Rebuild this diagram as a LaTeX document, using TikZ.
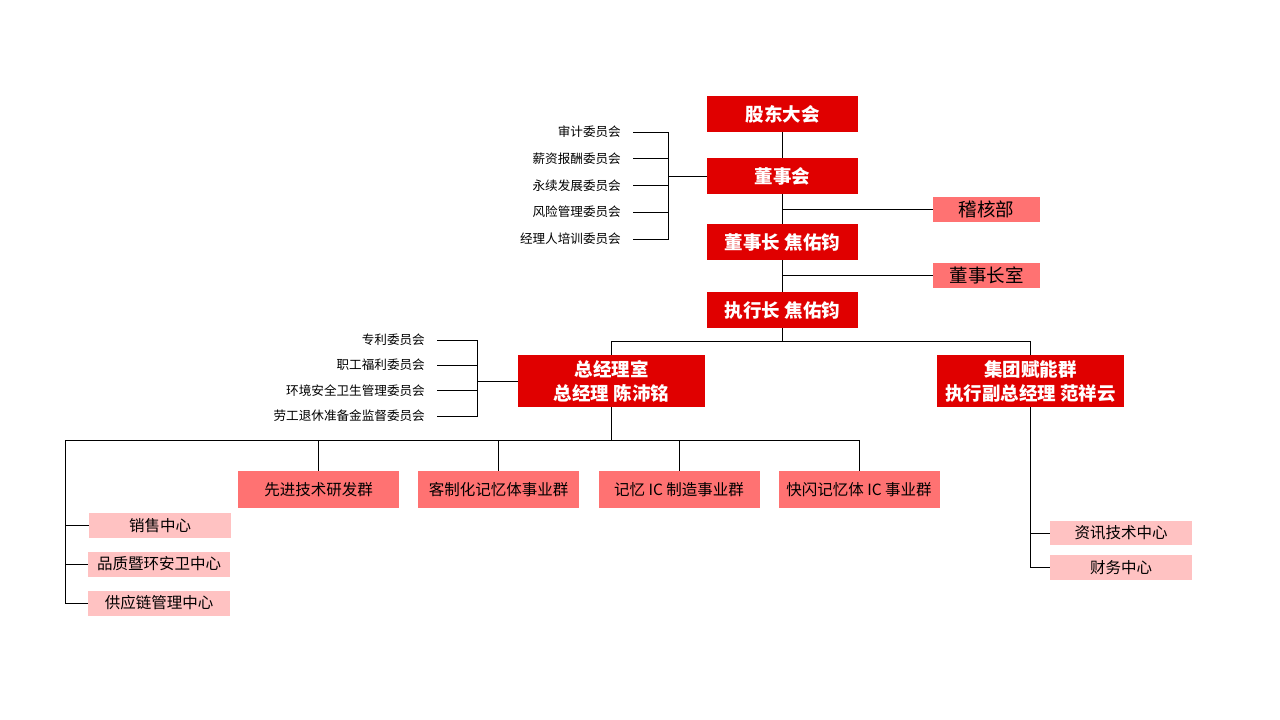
\documentclass[tikz,border=0pt]{standalone}
\usepackage{fontspec}
\setmainfont{Noto Sans CJK SC}
\definecolor{cdark}{RGB}{224,0,0}
\definecolor{csalmon}{RGB}{255,114,114}
\definecolor{cpink}{RGB}{255,194,194}
\begin{document}
\begin{tikzpicture}[x=1pt,y=-1pt,
  mainbox/.style={fill=cdark, text=white, font=\bfseries\fontsize{18.5}{24}\selectfont, minimum width=151pt, minimum height=36pt, inner sep=0pt, align=center},
  bigbox/.style={mainbox, minimum width=187pt, minimum height=52pt},
  sidebox/.style={fill=csalmon, text=black, font=\fontsize{18.5}{21}\selectfont, minimum width=107pt, minimum height=25pt, inner sep=0pt},
  grpbox/.style={fill=csalmon, text=black, font=\fontsize{15.5}{19}\selectfont, minimum width=161pt, minimum height=37pt, inner sep=0pt},
  ctrbox/.style={fill=cpink, text=black, font=\fontsize{15.5}{18}\selectfont, minimum width=142pt, minimum height=25pt, inner sep=0pt},
  cmt/.style={anchor=east, font=\fontsize{12.6}{14}\selectfont, inner xsep=12pt, inner ysep=0pt},
  conn/.style={draw=black, line width=0.9pt}
]
\useasboundingbox (0,0) rectangle (1280,720);
% main chain
\node[mainbox] (gd) at (782.5,114) {股东大会};
\node[mainbox] (dsh) at (782.5,176) {董事会};
\node[mainbox] (dsz) at (782.5,242) {董事长 焦佑钧};
\node[mainbox] (zxz) at (782.5,310) {执行长 焦佑钧};
\node[sidebox] (jh) at (986.5,209) {稽核部};
\node[sidebox] (dszs) at (986.5,275.5) {董事长室};
\node[bigbox] (zjl) at (611.5,381) {总经理室\\总经理 陈沛铭};
\node[bigbox] (jt) at (1030.5,381) {集团赋能群\\执行副总经理 范祥云};
% board committees
\node[cmt] (c1) at (633,132) {审计委员会};
\node[cmt] (c2) at (633,158.5) {薪资报酬委员会};
\node[cmt] (c3) at (633,185.5) {永续发展委员会};
\node[cmt] (c4) at (633,212) {风险管理委员会};
\node[cmt] (c5) at (633,239) {经理人培训委员会};
\coordinate (cb) at (668,176);
% GM committees
\node[cmt] (m1) at (437,340) {专利委员会};
\node[cmt] (m2) at (437,365) {职工福利委员会};
\node[cmt] (m3) at (437,390.5) {环境安全卫生管理委员会};
\node[cmt] (m4) at (437,416) {劳工退休准备金监督委员会};
\coordinate (mb) at (477,381);
% groups
\node[grpbox] (g1) at (318.5,489.5) {先进技术研发群};
\node[grpbox] (g2) at (498.5,489.5) {客制化记忆体事业群};
\node[grpbox] (g3) at (679,489.5) {记忆 IC 制造事业群};
\node[grpbox] (g4) at (859,489.5) {快闪记忆体 IC 事业群};
% centers
\node[ctrbox] (s1) at (160,525.5) {销售中心};
\node[ctrbox] (s2) at (159,564) {品质暨环安卫中心};
\node[ctrbox] (s3) at (159,603) {供应链管理中心};
\node[ctrbox, minimum height=24pt] (r1) at (1121,533) {资讯技术中心};
\node[ctrbox] (r2) at (1121,567.5) {财务中心};
\coordinate (e1) at (782.5,341);
\coordinate (b1) at (611.5,440);
\coordinate (lb) at (65,440);
% connectors
\draw[conn] (gd.south) -- (dsh.north);
\draw[conn] (dsh.south) -- (dsz.north);
\draw[conn] (dsz.south) -- (zxz.north);
\draw[conn] (jh.west) -- (jh.west -| dsh.south);
\draw[conn] (dszs.west) -- (dszs.west -| dsz.south);
\foreach \c in {c1,c2,c3,c4,c5} \draw[conn] (\c.east) -| (cb);
\draw[conn] (cb) -- (dsh.west);
\foreach \c in {m1,m2,m3,m4} \draw[conn] (\c.east) -| (mb);
\draw[conn] (mb) -- (zjl.west);
\draw[conn] (zxz.south) -- (e1);
\draw[conn] (e1) -| (zjl.north);
\draw[conn] (e1) -| (jt.north);
\draw[conn] (zjl.south) -- (b1);
\foreach \g in {g1,g2,g3,g4} \draw[conn] (b1) -| (\g.north);
\draw[conn] (b1) -- (lb) |- (s3.west);
\draw[conn] (s1.west -| lb) -- (s1.west);
\draw[conn] (s2.west -| lb) -- (s2.west);
\draw[conn] (jt.south) |- (r2.west);
\draw[conn] (r1.west -| jt.south) -- (r1.west);
\end{tikzpicture}
\end{document}
